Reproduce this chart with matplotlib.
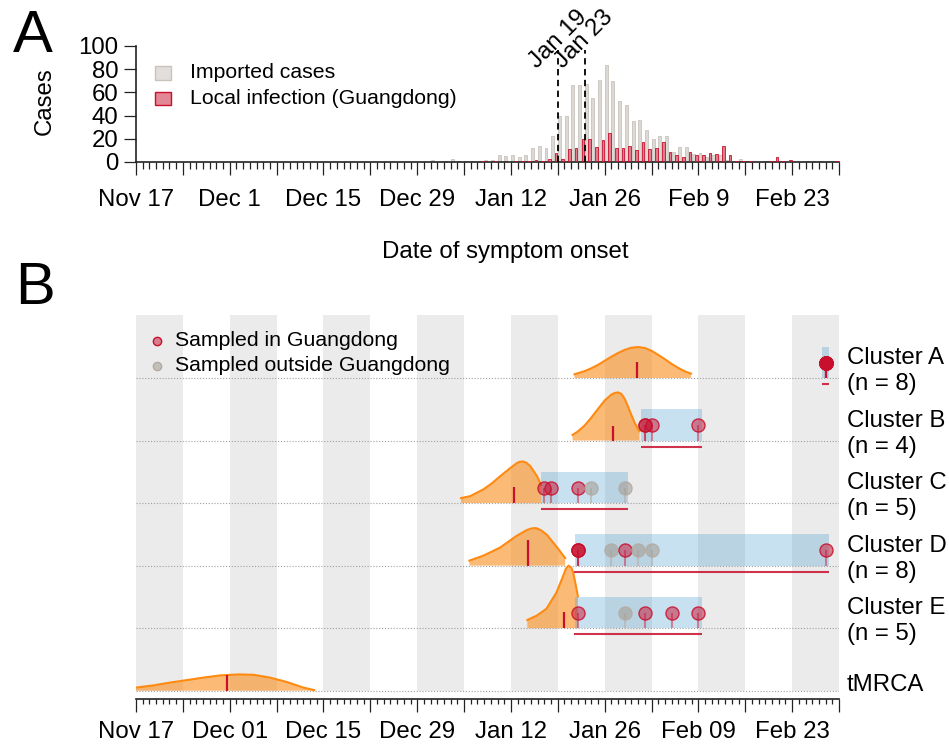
import numpy as np
import pandas as pd
import matplotlib
matplotlib.use('Agg')
import matplotlib.pyplot as plt
from matplotlib.patches import Rectangle
from matplotlib.transforms import blended_transform_factory
from matplotlib.colors import to_rgba

plt.rcParams['font.family'] = ['Liberation Sans', 'DejaVu Sans']

ORIGIN = pd.Timestamp('2019-11-17')


def dnum(s):
    return (pd.Timestamp(s) - ORIGIN).days


# ---------------- Panel A data ----------------
onset_first_day = '2019-12-31'
imported_cases = [2, 0, 1, 3, 1, 1, 1, 1, 2, 2, 6, 5, 6, 4, 6, 12, 14, 12, 22, 40,
                  40, 66, 66, 67, 55, 71, 84, 70, 53, 49, 35, 36, 28, 20, 22, 22, 9, 13, 13, 7,
                  8, 4, 6, 6, 2, 0, 3, 1, 0, 0, 1, 0, 0, 0, 0, 0, 1, 1, 1, 1, 0]
local_cases = [0, 0, 0, 0, 0, 0, 0, 1, 0, 1, 0, 0, 1, 1, 1, 2, 1, 3, 8, 3,
               11, 12, 20, 20, 13, 19, 25, 12, 12, 14, 10, 17, 11, 12, 17, 9, 6, 4, 9, 6,
               6, 8, 7, 14, 6, 1, 1, 1, 0, 0, 1, 4, 1, 2, 0, 0, 0, 0, 0, 0, 1]
event_dates = ['2020-01-19', '2020-01-23']
event_labels = ['Jan 19', 'Jan 23']

tick_labels_A = ['Nov 17', 'Dec 1', 'Dec 15', 'Dec 29', 'Jan 12', 'Jan 26', 'Feb 9', 'Feb 23']
tick_labels_B = ['Nov 17', 'Dec 01', 'Dec 15', 'Dec 29', 'Jan 12', 'Jan 26', 'Feb 09', 'Feb 23']

# ---------------- Panel B data ----------------
cluster_names = ['Cluster A', 'Cluster B', 'Cluster C', 'Cluster D', 'Cluster E']
cluster_n = [8, 4, 5, 8, 5]

samples_A = ['2020-02-28'] * 8
in_gd_A = [True] * 8
samples_B = ['2020-02-01', '2020-02-01', '2020-02-02', '2020-02-09']
in_gd_B = [True, True, True, True]
samples_C = ['2020-01-17', '2020-01-18', '2020-01-22', '2020-01-24', '2020-01-29']
in_gd_C = [True, True, True, False, False]
samples_D = ['2020-01-22', '2020-01-22', '2020-01-22', '2020-01-27', '2020-01-29',
             '2020-01-31', '2020-02-02', '2020-02-28']
in_gd_D = [True, True, True, False, True, False, False, True]
samples_E = ['2020-01-22', '2020-01-29', '2020-02-01', '2020-02-05', '2020-02-09']
in_gd_E = [True, False, True, True, True]

# posterior densities of cluster tMRCA (days since 2019-11-17, relative height)
dens_day_A = [65.5, 67, 68, 69, 70, 71, 72, 73, 74, 75, 76, 77, 78, 79, 80, 81, 82, 82.9]
dens_h_A = [0.06, 0.11, 0.155, 0.21, 0.275, 0.34, 0.40, 0.45, 0.485, 0.495, 0.48, 0.435,
            0.37, 0.30, 0.225, 0.16, 0.105, 0.07]
dens_day_B = [65.2, 66, 67, 68, 69, 70, 71, 71.5, 72, 72.5, 73, 73.5, 74, 74.5, 75, 75.2]
dens_h_B = [0.09, 0.145, 0.24, 0.365, 0.505, 0.64, 0.735, 0.76, 0.77, 0.745, 0.665, 0.54,
            0.405, 0.28, 0.18, 0.15]
dens_day_C = [48.55, 49.9, 51.9, 53.2, 54.4, 55.9, 56.9, 57.3, 57.8, 58.3, 58.9, 59.9, 60.5]
dens_h_C = [0.08, 0.11, 0.22, 0.32, 0.43, 0.56, 0.64, 0.66, 0.665, 0.645, 0.59, 0.43, 0.29]
dens_day_D = [49.8, 51.9, 54.4, 56.9, 58.4, 59.1, 59.75, 60.5, 61.4, 62.9, 64.1]
dens_h_D = [0.08, 0.16, 0.29, 0.48, 0.57, 0.595, 0.60, 0.565, 0.49, 0.29, 0.12]
dens_day_E = [58.45, 59.85, 61.3, 62.8, 63.8, 64.2, 64.6, 65.0, 65.3, 65.7, 66.0]
dens_h_E = [0.13, 0.20, 0.31, 0.57, 0.835, 0.95, 1.0, 0.97, 0.89, 0.68, 0.51]
dens_day_root = [0, 2.6, 5.1, 7.6, 10.1, 12.6, 15.3, 17.5, 20.0, 22.5, 25.0, 26.6]
dens_h_root = [0.05, 0.085, 0.13, 0.17, 0.21, 0.245, 0.26, 0.255, 0.21, 0.14, 0.05, 0.01]

median_day = [74.8, 71.2, 56.5, 58.6, 63.9]
median_root = 13.65

# ---------------- styles ----------------
W, H = 949, 746
CRIMSON = '#c8102e'
FS = 17.3
FS_LEG = 15.3

fig = plt.figure(figsize=(W / 100, H / 100), dpi=100)


def rect_px(l, t, r, b):
    return [l / W, 1 - b / H, (r - l) / W, (b - t) / H]


axA = fig.add_axes(rect_px(136, 46, 839, 162))
axB = fig.add_axes(rect_px(136, 315, 839, 699))

x_end = 105
major_ticks = list(range(0, x_end + 1, 7))
label_ticks = list(range(0, 99, 14))


def major_labels(labels):
    out = []
    for t in major_ticks:
        out.append(labels[label_ticks.index(t)] if t in label_ticks else '')
    return out


# ---------------- Panel A ----------------
first = dnum(onset_first_day)
days = np.arange(first, first + len(imported_cases))
imp = np.array(imported_cases)
loc = np.array(local_cases)
mi = imp > 0
ml = loc > 0
axA.bar(days[mi] + 0.02, imp[mi], width=0.44, align='edge',
        color=to_rgba('#aca398', 0.42), edgecolor='#c9c3bc', lw=0.6, zorder=2)
axA.bar(days[ml] + 0.54, loc[ml], width=0.40, align='edge',
        color=to_rgba(CRIMSON, 0.55), edgecolor=CRIMSON, lw=0.6, zorder=3)

for d, lab in zip(event_dates, event_labels):
    x = dnum(d)
    axA.vlines(x, 0, 96.5, colors='black', linestyles=(0, (3.5, 2.5)), lw=1.3, zorder=4)
    axA.text(x, 105.5, lab, rotation=45, ha='center', va='center', fontsize=FS,
             rotation_mode='anchor', clip_on=False)

axA.set_xlim(0, x_end)
axA.set_ylim(0, 100)
for s in ['top', 'right']:
    axA.spines[s].set_visible(False)
axA.spines['left'].set_bounds(0, 100)
for s in ['left', 'bottom']:
    axA.spines[s].set_linewidth(1.2)
    axA.spines[s].set_color('#222222')
axA.set_xticks(major_ticks)
axA.set_xticklabels(major_labels(tick_labels_A))
axA.set_xticks(range(0, x_end + 1), minor=True)
axA.set_yticks(range(0, 101, 20))
axA.tick_params(axis='x', which='major', length=9.5, width=0.9, pad=10, labelsize=FS, color='#222222')
axA.tick_params(axis='x', which='minor', length=5, width=0.9, color='#222222')
axA.tick_params(axis='y', which='major', length=8.6, width=0.9, pad=4, labelsize=FS, color='#222222')

fig.text(45 / W, 1 - 101 / H, 'Cases', rotation=90, ha='center', va='center', fontsize=FS)
fig.text(33 / W, 1 - 36 / H, 'A', ha='center', va='center', fontsize=43)
fig.text(35 / W, 1 - 288 / H, 'B', ha='center', va='center', fontsize=43)
fig.text(505 / W, 1 - 252 / H, 'Date of symptom onset', ha='center', va='center', fontsize=FS)

# legend A
fig.add_artist(Rectangle((155 / W, 1 - 79.5 / H), 15.5 / W, 13.3 / H, transform=fig.transFigure,
                         facecolor=to_rgba('#aca398', 0.35), edgecolor='#c9c3bc', lw=1))
fig.add_artist(Rectangle((155 / W, 1 - 105 / H), 15.5 / W, 13.3 / H, transform=fig.transFigure,
                         facecolor=to_rgba(CRIMSON, 0.5), edgecolor=CRIMSON, lw=1))
fig.text(190 / W, 1 - 73 / H, 'Imported cases', ha='left', va='center', fontsize=FS_LEG)
fig.text(190 / W, 1 - 98 / H, 'Local infection (Guangdong)', ha='left', va='center', fontsize=FS_LEG)

# ---------------- Panel B ----------------
ROW = 62.54
y_top = (378 - 315) / ROW
y_bot = -(699 - 378) / ROW
axB.set_xlim(0, x_end)
axB.set_ylim(y_bot, y_top)
band_bottom = -(691.5 - 378) / ROW
for s in range(0, x_end, 14):
    axB.add_patch(Rectangle((s, band_bottom), 7, y_top - band_bottom, facecolor='#ebebeb',
                            lw=0, zorder=0))

rows = [0, -1, -2, -3, -4]
root_row = -5
axB.hlines(rows + [root_row], 0, x_end, colors='#a0a0a0', linestyles=(0, (1, 1.6)), lw=0.8, zorder=1)

samples = [samples_A, samples_B, samples_C, samples_D, samples_E]
in_gd = [in_gd_A, in_gd_B, in_gd_C, in_gd_D, in_gd_E]
dens_days = [dens_day_A, dens_day_B, dens_day_C, dens_day_D, dens_day_E]
dens_hs = [dens_h_A, dens_h_B, dens_h_C, dens_h_D, dens_h_E]
median_len = [0.25, 0.24, 0.255, 0.415, 0.255]

ORANGE_FILL = to_rgba('#f98e1d', 0.6)
ORANGE_LINE = '#ff8a12'
BLUE = to_rgba('#4b9cd3', 0.3)
PT_H = 0.245


def draw_density(dd, hh, y0):
    dd = np.array(dd)
    hh = np.array(hh)
    axB.fill_between(dd, y0, y0 + hh, facecolor=ORANGE_FILL, lw=0, zorder=2)
    axB.plot(dd, y0 + hh, color=ORANGE_LINE, lw=1.5, zorder=3,
             solid_joinstyle='round')


for i, y0 in enumerate(rows):
    draw_density(dens_days[i], dens_hs[i], y0)
    axB.vlines(median_day[i], y0, y0 + median_len[i], colors=CRIMSON, lw=1.6, zorder=4)
    xs = np.array([dnum(s) for s in samples[i]])
    lo, hi = xs.min(), xs.max()
    axB.add_patch(Rectangle((lo - 0.5, y0), hi - lo + 1, 0.5, facecolor=BLUE, lw=0, zorder=3))
    axB.hlines(y0 - 0.1, lo - 0.55, hi + 0.55, colors=CRIMSON, lw=1.5, alpha=0.85, zorder=4)
    for x, g in zip(xs, in_gd[i]):
        if g:
            stem = to_rgba(CRIMSON, 0.45)
            fc = to_rgba(CRIMSON, 0.5)
            ec = to_rgba(CRIMSON, 0.85)
        else:
            stem = to_rgba('#b5aea6', 0.6)
            fc = to_rgba('#a39a8f', 0.55)
            ec = to_rgba('#b3aca4', 0.9)
        axB.vlines(x, y0, y0 + PT_H, colors=[stem], lw=1.5, zorder=5)
        axB.plot([x], [y0 + PT_H], 'o', ms=9.4, mfc=fc, mec=ec, mew=1.0, zorder=6)

draw_density(dens_day_root, dens_h_root, root_row)
axB.vlines(median_root, root_row, root_row + 0.245, colors=CRIMSON, lw=1.6, zorder=4)

# right labels
tr = blended_transform_factory(axB.transAxes, axB.transData)
x_lab = (847 - 136) / 703
for i, y0 in enumerate(rows):
    axB.text(x_lab, y0 + 20 / ROW, cluster_names[i], transform=tr, ha='left', va='center', fontsize=FS)
    axB.text(x_lab, y0 - 6 / ROW, f'(n = {cluster_n[i]})', transform=tr, ha='left', va='center', fontsize=FS)
axB.text(x_lab, root_row + 6 / ROW, 'tMRCA', transform=tr, ha='left', va='center', fontsize=FS)

# legend B
lx = (157.3 - 136) / 703 * x_end
axB.plot([lx], [(378 - 341) / ROW], 'o', ms=6, mfc=to_rgba(CRIMSON, 0.5), mec=CRIMSON, mew=1, zorder=6)
axB.plot([lx], [(378 - 365.7) / ROW], 'o', ms=6, mfc=to_rgba('#a39a8f', 0.55), mec='#b3aca4', mew=1, zorder=6)
tx = (175 - 136) / 703 * x_end
axB.text(tx, (378 - 341) / ROW, 'Sampled in Guangdong', ha='left', va='center', fontsize=FS_LEG, zorder=7)
axB.text(tx, (378 - 365.7) / ROW, 'Sampled outside Guangdong', ha='left', va='center', fontsize=FS_LEG, zorder=7)

for s in ['top', 'right', 'left']:
    axB.spines[s].set_visible(False)
axB.spines['bottom'].set_linewidth(1.2)
axB.spines['bottom'].set_color('#222222')
axB.set_yticks([])
axB.set_xticks(major_ticks)
axB.set_xticklabels(major_labels(tick_labels_B))
axB.set_xticks(range(0, x_end + 1), minor=True)
axB.tick_params(axis='x', which='major', length=9, width=0.9, pad=6.5, labelsize=FS, color='#222222')
axB.tick_params(axis='x', which='minor', length=3.8, width=0.9, color='#222222')

fig.savefig('out.png', dpi=100)
